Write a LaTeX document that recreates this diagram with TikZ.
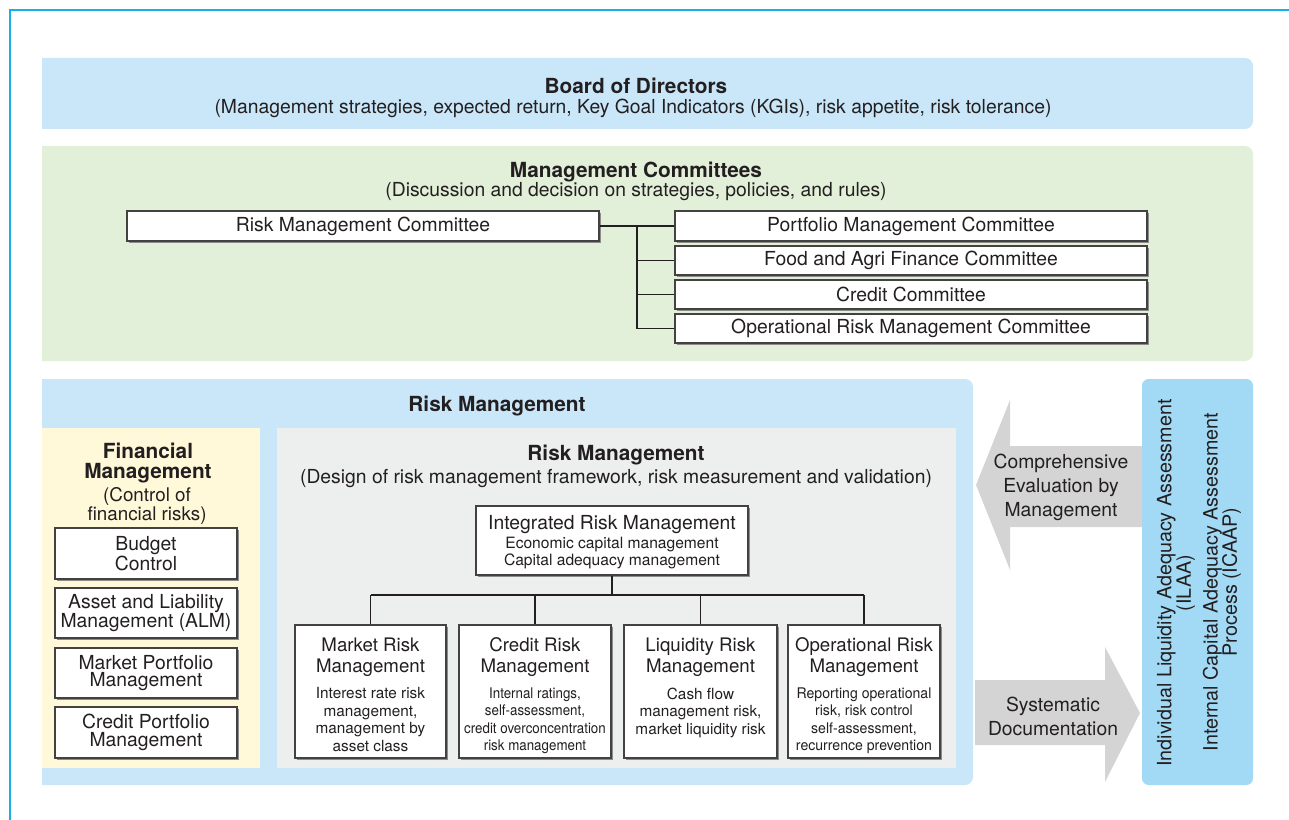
\documentclass[tikz,border=0pt]{standalone}
\usepackage{fontspec}
\setmainfont{TeX Gyre Heros}
\usetikzlibrary{shadows}
\definecolor{frameblue}{HTML}{1AAFE6}
\definecolor{lblue}{HTML}{C9E7F9}
\definecolor{lgreen}{HTML}{E2EFD9}
\definecolor{lyellow}{HTML}{FFF9D9}
\definecolor{lgray}{HTML}{EDEFEF}
\definecolor{agray}{HTML}{D4D4D4}
\definecolor{rblue}{HTML}{A2D9F5}
\definecolor{txt}{HTML}{231F20}
\newcommand\pxu{0.75pt}
\tikzset{
  every node/.style={text=txt, inner sep=0pt},
  wbox/.style={draw=txt!85, line width=0.9pt, fill=white, drop shadow={shadow xshift=1.2pt, shadow yshift=-1.2pt, fill=black!45, opacity=1}},
  lbl/.style={align=center, font=\fontsize{14.5}{16}\selectfont},
  ttl/.style={align=center, font=\fontsize{15.6}{16}\selectfont\bfseries},
  small/.style={align=center, font=\fontsize{11.5}{13.1}\selectfont},
  conn/.style={draw=txt, line width=0.8pt},
}
\begin{document}
\begin{tikzpicture}[x=0.75pt,y=-0.75pt]
\useasboundingbox (0,0) rectangle (1289,820);
% frame
\draw[frameblue, line width=1.2pt] (10,820) -- (10,10) -- (1289,10);
% board
\fill[lblue] (42,129) -- (42,58) [rounded corners=6pt] -- (1253,58) -- (1253,129) [sharp corners] -- cycle;
\node[ttl] (boardt) at (636,86) {Board of Directors};
\node[lbl] (boards) at (633,108) {(Management strategies, expected return, Key Goal Indicators (KGIs), risk appetite, risk tolerance)};
% committees
\fill[lgreen] (42,361) -- (42,146) [rounded corners=6pt] -- (1253,146) -- (1253,361) [sharp corners] -- cycle;
\node[ttl] (mct) at (636,172) {Management Committees};
\node[lbl] (mcs) at (636,192) {(Discussion and decision on strategies, policies, and rules)};
\node[wbox, lbl, minimum width=472*\pxu, minimum height=30*\pxu] (rmc) at (363,226) {\raisebox{-1.5pt}{Risk Management Committee}};
\node[wbox, lbl, minimum width=472*\pxu, minimum height=30*\pxu] (c1) at (911,226) {\raisebox{-1.5pt}{Portfolio Management Committee}};
\node[wbox, lbl, minimum width=472*\pxu, minimum height=29*\pxu] (c2) at (911,260.5) {\raisebox{-1.2pt}{Food and Agri Finance Committee}};
\node[wbox, lbl, minimum width=472*\pxu, minimum height=29*\pxu] (c3) at (911,294.5) {\raisebox{-1.2pt}{Credit Committee}};
\node[wbox, lbl, minimum width=472*\pxu, minimum height=29*\pxu] (c4) at (911,328.5) {\raisebox{-1.2pt}{Operational Risk Management Committee}};
\coordinate (bus) at (637,226);
\draw[conn] (rmc.east) -- (c1.west);
\draw[conn] (bus) |- (c4.west);
\draw[conn] (bus |- c2.west) -- (c2.west);
\draw[conn] (bus |- c3.west) -- (c3.west);
% risk management outer
\fill[lblue] (42,785) -- (42,379) [rounded corners=6pt] -- (973,379) -- (973,785) [sharp corners] -- cycle;
\node[ttl] (rmt) at (497,406) {Risk Management};
% financial management
\fill[lyellow] (42,428) rectangle (260,768);
\node[ttl, font=\fontsize{15.6}{15}\selectfont\bfseries] (fmt) at (148,463) {Financial\\Management};
\node[lbl, font=\fontsize{14.1}{13.6}\selectfont] (fms) at (147,506) {(Control of\\financial risks)};
\node[wbox, lbl, font=\fontsize{14.5}{13}\selectfont, minimum width=182*\pxu, minimum height=51*\pxu] (f1) at (146,553.5) {Budget\\Control};
\node[wbox, lbl, font=\fontsize{14.5}{13}\selectfont, minimum width=182*\pxu, minimum height=50*\pxu] (f2) at (146,613) {Asset and Liability\\Management (ALM)};
\node[wbox, lbl, font=\fontsize{14.5}{13}\selectfont, minimum width=182*\pxu, minimum height=50*\pxu] (f3) at (146,673) {Market Portfolio\\Management};
\node[wbox, lbl, font=\fontsize{14.5}{13}\selectfont, minimum width=182*\pxu, minimum height=51*\pxu] (f4) at (146,732.5) {Credit Portfolio\\Management};
% inner risk management
\fill[lgray] (277,428) rectangle (956,768);
\node[ttl] (irt) at (616,455) {Risk Management};
\node[lbl] (irs) at (616,479) {(Design of risk management framework, risk measurement and validation)};
\node[wbox, minimum width=272*\pxu, minimum height=69*\pxu] (irm) at (612,540.5) {};
\node[lbl] (irmt) at (612,525) {Integrated Risk Management};
\node[small, font=\fontsize{11.7}{13.3}\selectfont] (irmd) at (612,553) {Economic capital management\\Capital adequacy management};
% four boxes
\foreach \n/\cx/\w in {mr/370.5/151, cr/535/152, lr/700.5/153, or/864/152}{
  \node[wbox, minimum width=\w*\pxu, minimum height=133*\pxu] (\n) at (\cx,691.5) {};
}
\node[lbl, font=\fontsize{14}{15.5}\selectfont, anchor=north] (mrt) at (370.5,637.5) {Market Risk\\Management};
\node[lbl, font=\fontsize{14}{15.5}\selectfont, anchor=north] (crt) at (535,637.5) {Credit Risk\\Management};
\node[lbl, font=\fontsize{14}{15.5}\selectfont, anchor=north] (lrt) at (700.5,637.5) {Liquidity Risk\\Management};
\node[lbl, font=\fontsize{14}{15.5}\selectfont, anchor=north] (ort) at (864,637.5) {Operational Risk\\Management};
\node[small, anchor=north] (mrd) at (370.5,687.5) {Interest rate risk\\management,\\management by\\asset class};
\node[small, font=\fontsize{11}{13.1}\selectfont\addfontfeatures{FakeStretch=0.91}, anchor=north] (crd) at (535,687.5) {Internal ratings,\\self-assessment,\\credit overconcentration\\risk management};
\node[small, anchor=north] (lrd) at (700.5,687.5) {Cash flow\\management risk,\\market liquidity risk};
\node[small, font=\fontsize{11}{13.1}\selectfont\addfontfeatures{FakeStretch=0.96}, anchor=north] (ord) at (864,687.5) {Reporting operational\\risk, risk control\\self-assessment,\\recurrence prevention};
\coordinate (hub) at (612,595);
\draw[conn] (irm.south) -- (hub);
\draw[conn] (hub -| mr.north) -- (hub -| or.north);
\foreach \n in {mr,cr,lr,or}{ \draw[conn] (hub -| \n.north) -- (\n.north); }
% right box
\fill[rblue, rounded corners=5pt] (1142,379) rectangle (1253,785);
\node[lbl, rotate=90, font=\fontsize{14.8}{14.5}\selectfont] (ilaa) at (1176,583) {Individual Liquidity Adequacy Assessment\\(ILAA)};
\node[lbl, rotate=90, font=\fontsize{14.8}{14.5}\selectfont] (icaap) at (1222,582) {Internal Capital Adequacy Assessment\\Process (ICAAP)};
% arrows
\fill[agray] (976,485) -- (1010,400) -- (1010,446) -- (1142,446) -- (1142,527) -- (1010,527) -- (1010,570) -- cycle;
\node[lbl, font=\fontsize{14.5}{18}\selectfont] (cem) at (1061,487) {Comprehensive\\Evaluation by\\Management};
\fill[agray] (975,680) -- (1105,680) -- (1105,647) -- (1140,713) -- (1105,782) -- (1105,745) -- (975,745) -- cycle;
\node[lbl, font=\fontsize{14.5}{18}\selectfont] (sd) at (1053,716) {Systematic\\Documentation};
\end{tikzpicture}
\end{document}
